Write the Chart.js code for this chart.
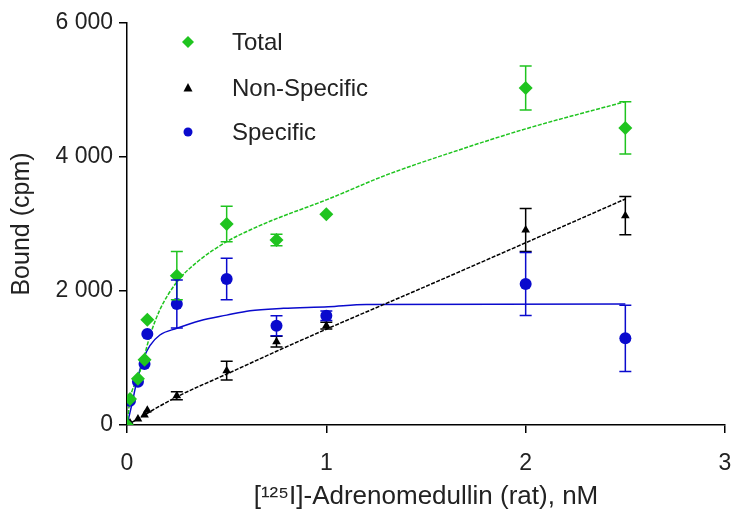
<!DOCTYPE html>
<html>
<head>
<meta charset="utf-8">
<script src="https://cdn.jsdelivr.net/npm/chart.js@4/dist/chart.umd.min.js"></script>
<style>
  html, body { margin: 0; padding: 0; background: #fff; }
  #wrap { width: 733px; height: 514px; }
</style>
</head>
<body>
<div id="wrap"><canvas id="chart"></canvas></div>
<script>
// concentrations, nM
const conc = [0, 0.015, 0.055, 0.088, 0.102, 0.25, 0.5, 0.75, 1, 2, 2.5]

const total = [0, 388, 690, 975, 1571, 2228, 3000, 2761, 3145, 5030, 4433]
const totalErr = [0, 0, 0, 0, 0, 360, 265, 85, 0, 330, 390]

const nonSpecific = [0, 30, 90, 150, 220, 437, 810, 1243, 1482, 2910, 3124]
const nonSpecificErr = [0, 0, 0, 0, 0, 60, 140, 80, 50, 320, 285]

const specific = [0, 363, 646, 910, 1358, 1806, 2179, 1482, 1631, 2104, 1294]
const specificErr = [0, 0, 0, 0, 0, 360, 310, 150, 70, 470, 495]

// fitted curves
const totalFitX = [0, 0.015, 0.055, 0.083, 0.115, 0.165, 0.25, 0.35, 0.5, 0.617, 0.75, 1.0, 1.3, 1.64, 2.0, 2.5]
const totalFitY = [0, 380, 700, 985, 1330, 1720, 2134, 2428, 2736, 2910, 3080, 3360, 3730, 4080, 4420, 4826]

const nsFitX = [0, 0.25, 0.5, 0.75, 1.0, 1.5, 2.0, 2.5]
const nsFitY = [0, 420, 760, 1100, 1430, 2070, 2720, 3373]

const specFitX = [0, 0.023, 0.048, 0.082, 0.115, 0.165, 0.25, 0.366, 0.5, 0.617, 0.785, 1.01, 1.2, 2.5]
const specFitY = [0, 288, 637, 985, 1184, 1343, 1443, 1557, 1640, 1706, 1741, 1766, 1800, 1806]

const GREEN = "#1fc41f"
const BLACK = "#000"
const BLUE = "#0a0acd"
const FONT = "'Liberation Sans', Arial, sans-serif"

const pts = (xs, ys) => xs.map((x, i) => ({ x: x, y: ys[i] }))

const fmt = v => String(v).replace(/\B(?=(\d{3})+(?!\d))/g, " ")

const errorBars = {
  id: "errorBars",
  afterDatasetsDraw(chart) {
    const ctx = chart.ctx
    const xs = chart.scales.x, ys = chart.scales.y
    chart.data.datasets.forEach(ds => {
      if (!ds.errors) return
      ctx.save()
      ctx.strokeStyle = ds.borderColor
      ctx.lineWidth = 1.5
      ds.data.forEach((p, i) => {
        const e = ds.errors[i]
        if (!e) return
        const px = xs.getPixelForValue(p.x)
        const top = ys.getPixelForValue(p.y + e)
        const bot = ys.getPixelForValue(p.y - e)
        ctx.beginPath()
        ctx.moveTo(px, top); ctx.lineTo(px, bot)
        ctx.moveTo(px - 6, top); ctx.lineTo(px + 6, top)
        ctx.moveTo(px - 6, bot); ctx.lineTo(px + 6, bot)
        ctx.stroke()
      })
      ctx.restore()
    })
  },
}

const legendBox = {
  id: "legendBox",
  afterDraw(chart) {
    const ctx = chart.ctx
    const items = [
      { text: "Total", color: GREEN, style: "diamond", y: 42 },
      { text: "Non-Specific", color: BLACK, style: "triangle", y: 88 },
      { text: "Specific", color: BLUE, style: "circle", y: 132 },
    ]
    ctx.save()
    items.forEach(it => {
      const mx = 188, my = it.y
      ctx.fillStyle = it.color
      ctx.beginPath()
      if (it.style == "diamond") {
        ctx.moveTo(mx, my - 6); ctx.lineTo(mx + 6, my); ctx.lineTo(mx, my + 6); ctx.lineTo(mx - 6, my)
      } else if (it.style == "triangle") {
        ctx.moveTo(mx, my - 5); ctx.lineTo(mx + 4.5, my + 3.5); ctx.lineTo(mx - 4.5, my + 3.5)
      } else {
        ctx.arc(mx, my, 4.5, 0, Math.PI * 2)
      }
      ctx.closePath()
      ctx.fill()
      ctx.fillStyle = "#222"
      ctx.font = "24px " + FONT
      ctx.textBaseline = "middle"
      ctx.fillText(it.text, 232, my + 1)
    })
    ctx.restore()
  },
}

new Chart(document.getElementById("chart"), {
  type: "scatter",
  data: {
    datasets: [
      { label: "Total", data: pts(conc, total), errors: totalErr, backgroundColor: GREEN, borderColor: GREEN,
        pointStyle: "rectRot", pointRadius: 7, pointBorderWidth: 0 },
      { label: "Non-Specific", data: pts(conc, nonSpecific), errors: nonSpecificErr, backgroundColor: BLACK, borderColor: BLACK,
        pointStyle: "triangle", pointRadius: 5, pointBorderWidth: 0 },
      { label: "Specific", data: pts(conc, specific), errors: specificErr, backgroundColor: BLUE, borderColor: BLUE,
        pointStyle: "circle", pointRadius: 6, pointBorderWidth: 0 },
      { data: pts(totalFitX, totalFitY), showLine: true, pointRadius: 0, borderColor: GREEN, borderWidth: 1.5,
        borderDash: [4, 1.5], cubicInterpolationMode: "monotone" },
      { data: pts(nsFitX, nsFitY), showLine: true, pointRadius: 0, borderColor: BLACK, borderWidth: 1.5,
        borderDash: [4, 1.5], cubicInterpolationMode: "monotone" },
      { data: pts(specFitX, specFitY), showLine: true, pointRadius: 0, borderColor: BLUE, borderWidth: 1.5,
        cubicInterpolationMode: "monotone" },
    ],
  },
  options: {
    responsive: true,
    maintainAspectRatio: false,
    animation: false,
    layout: { padding: { left: 0, right: 0, top: 23, bottom: 0 } },
    scales: {
      x: {
        type: "linear",
        min: 0,
        max: 3,
        afterFit: s => { s.height = 89; s.paddingRight = 8; s.paddingLeft = 0 },
        ticks: { stepSize: 1, color: "#222", padding: 17, font: { size: 23, family: FONT } },
        grid: { drawOnChartArea: false, drawTicks: true, tickLength: 8, color: "#000", lineWidth: 1.5 },
        border: { color: "#000", width: 1.5 },
        title: { display: true, text: "[¹²⁵I]-Adrenomedullin (rat), nM", color: "#222", padding: { top: 0, bottom: 2 },
          font: { size: 26, family: FONT } },
      },
      y: {
        min: 0,
        max: 6000,
        afterFit: s => { s.width = 127 },
        ticks: { stepSize: 2000, color: "#222", padding: 6, callback: fmt, font: { size: 23, family: FONT } },
        grid: { drawOnChartArea: false, drawTicks: true, tickLength: 8, color: "#000", lineWidth: 1.5 },
        border: { color: "#000", width: 1.5 },
        title: { display: true, text: "Bound (cpm)", color: "#222", padding: { top: 7, bottom: 0 },
          font: { size: 25, family: FONT } },
      },
    },
    plugins: {
      legend: { display: false },
      tooltip: { enabled: false },
    },
  },
  plugins: [errorBars, legendBox],
})
</script>
</body>
</html>
